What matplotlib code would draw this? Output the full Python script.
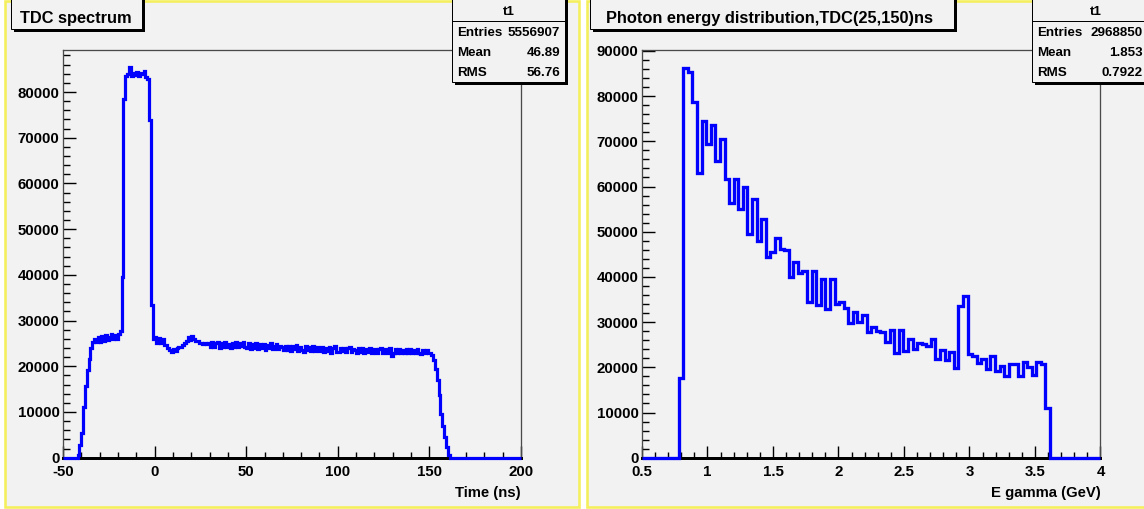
import numpy as np
import matplotlib
matplotlib.use("Agg")
import matplotlib.pyplot as plt
from matplotlib.patches import Rectangle
from matplotlib.lines import Line2D
from matplotlib.ticker import MultipleLocator, FuncFormatter
from matplotlib import font_manager

# ---------------- TDC spectrum: counts per 1 ns bin, -50 ns .. 200 ns ----------------
tdc_range_ns = (-50, 200)
tdc_lead_zeros = [0] * 8                      # -50 .. -43
tdc_rise = [600, 2800, 5400, 11000, 15600, 19200, 21600, 23900, 25400, 25900]   # -42 .. -33
tdc_shoulder = [25400, 26400, 25300, 26600, 25600, 26800, 25700, 26500, 27000, 25900,
                26900, 26000, 27000, 27800]   # -32 .. -19
tdc_prompt_peak = [39600, 78500, 83500, 83900, 85400, 83600, 84200, 83700, 84300, 83500,
                   84100, 83900, 84700, 83200, 82800, 73800, 33400, 25900]   # -18 .. -1
tdc_after_peak = [26300, 25100, 26200, 25000, 25900, 24600, 24700, 23900, 23600, 23100,
                  23700, 23300, 24100, 24200, 24300, 24600, 25200, 25500, 26400, 25800,
                  26600, 25900, 25500, 25500, 25100, 25200, 24900, 25100, 24800, 25000]  # 0 .. 29
tdc_plateau = [24300, 25300, 24200, 25100, 25400, 24100, 25000, 24300, 25300, 24200,
               24900, 24100, 25200, 24300, 25400, 24200, 25000, 24400, 25300, 24300,
               23900, 25000, 23800, 24900, 24100, 25000, 23700, 24800, 24000, 24900,
               23600, 24700, 23900, 25000, 23800, 24500, 24800, 23700, 24500, 24200,
               23500, 24500, 23600, 24500, 23400, 24400, 23700, 24700, 23400, 24300,
               23600, 23200, 24500, 23500, 24300, 23400, 24400, 23300, 24200, 23500,
               23300, 24300, 23100, 24100, 23300, 24200, 23000, 23900, 24400, 23200,
               23100, 24100, 23300, 24000, 23100, 23900, 24200, 23100, 23800, 23500,
               23000, 23900, 23100, 24000, 22900, 23800, 23100, 23900, 22900, 23700,
               23800, 22800, 23700, 23900, 22900, 23600, 23800, 22900, 23900, 22300,
               22900, 23700, 22800, 23800, 23000, 23600, 22800, 23800, 22900, 23700,
               22800, 23600, 22900, 23700, 23000, 22700, 23600, 22900, 23500, 22800]  # 30 .. 149
tdc_fall = [22900, 22500, 21300, 19500, 17000, 13800, 9500, 7000, 4600, 2400, 600]  # 150 .. 160
tdc_trail_zeros = [0] * 39                    # 161 .. 199

# ---------------- Photon energy: 100 bins over 0.5 .. 4 GeV ----------------
eg_range_gev = (0.5, 4.0)
eg_nbins = 100
eg_lead_zeros = [0] * 8
eg_counts = [17600, 86200, 85300, 78600, 63000, 74600, 69400, 73700, 65700, 70600,
             61600, 56400, 61600, 55000, 60000, 49600, 57200, 48000, 52800, 44300,
             45500, 48500, 46100, 45900, 39900, 43400, 40800, 41200, 34400, 41300,
             33800, 39500, 33000, 39600, 34000, 34400, 33200, 29900, 32300, 30000,
             31500, 27800, 28900, 28100, 27800, 25700, 28200, 23200, 28200, 23700,
             26200, 24100, 25300, 25100, 24700, 26200, 21800, 23800, 21600, 23400,
             19900, 33600, 35800, 23000, 22400, 21000, 21900, 19700, 22500, 19200,
             20200, 18000, 20800, 20800, 18000, 21200, 20100, 18200, 21200, 20800, 10900]
eg_trail_zeros = [0] * 11

# statistics box contents
tdc_stats = ("t1", "5556907", "46.89", "56.76")
eg_stats = ("t1", "2968850", "1.853", "0.7922")

tdc_title = "TDC spectrum"
eg_title = "Photon energy distribution,TDC(25,150)ns"
tdc_xlabel = "Time (ns)"
eg_xlabel = "E gamma (GeV)"

# ---------------- fonts ----------------
installed = {f.name for f in font_manager.fontManager.ttflist}
if "Liberation Sans Narrow" in installed:
    FAMILY, FS, FS_TICK = "Liberation Sans Narrow", 1.0, 1.0
else:
    FAMILY, FS, FS_TICK = "Liberation Sans", 0.84, 0.9
plt.rcParams["font.family"] = [FAMILY, "DejaVu Sans"]
plt.rcParams["font.weight"] = "bold"

W, H = 1144, 509
PX = 0.72  # points per pixel at 100 dpi
PAD_BG = "#f2f2f2"
PAD_EDGE = "#f4ef5c"
BLUE = "#0000ff"

fig = plt.figure(figsize=(W / 100, H / 100), dpi=100)
fig.patch.set_facecolor("white")


def fxy(x, y):
    return x / W, 1 - y / H


def fig_rect(x0, y0, x1, y1, **kw):
    r = Rectangle((x0 / W, 1 - y1 / H), (x1 - x0) / W, (y1 - y0) / H,
                  transform=fig.transFigure, **kw)
    fig.add_artist(r)
    return r


def fig_text(x, y, s, size, **kw):
    fx, fy = fxy(x, y)
    fig.text(fx, fy, s, fontsize=size * FS, fontweight="bold", color="black",
             va="baseline", zorder=8, **kw)


# canvas pads
fig_rect(4.5, 1, 578.5, 507, facecolor=PAD_BG, edgecolor=PAD_EDGE, linewidth=2.6 * PX, zorder=-5)
fig_rect(586.5, 1, 1152, 507, facecolor=PAD_BG, edgecolor=PAD_EDGE, linewidth=2.6 * PX, zorder=-5)


def make_axes(x0, x1):
    ax = fig.add_axes([x0 / W, 1 - 457.7 / H, (x1 - x0) / W, (457.7 - 50) / H])
    ax.set_facecolor(PAD_BG)
    for side in ("left", "top", "right"):
        ax.spines[side].set_color("#4a4a4a")
        ax.spines[side].set_linewidth(1.3 * PX)
    ax.spines["bottom"].set_color("black")
    ax.spines["bottom"].set_linewidth(3.0 * PX)
    ax.tick_params(which="both", direction="in", top=False, right=False,
                   color="black", width=1.4 * PX)
    ax.tick_params(which="major", length=12.5 * PX)
    ax.tick_params(which="minor", length=6.5 * PX)
    ax.tick_params(axis="x", which="major", pad=7.5 * PX, labelsize=12 * FS_TICK)
    ax.tick_params(axis="y", which="major", pad=3.5 * PX, labelsize=12 * FS_TICK)
    ax.yaxis.set_major_locator(MultipleLocator(10000))
    ax.yaxis.set_minor_locator(MultipleLocator(2000))
    ax.yaxis.set_major_formatter(FuncFormatter(lambda v, p: "%d" % round(v)))
    return ax


# ---------------- left: TDC spectrum ----------------
axL = make_axes(63, 521)
tdc_values = (tdc_lead_zeros + tdc_rise + tdc_shoulder + tdc_prompt_peak + tdc_after_peak
              + tdc_plateau + tdc_fall + tdc_trail_zeros)
tdc_edges = np.linspace(tdc_range_ns[0], tdc_range_ns[1], len(tdc_values) + 1)
axL.stairs(tdc_values, tdc_edges, color=BLUE, linewidth=3.2 * PX, zorder=3, clip_on=False)
axL.set_xlim(*tdc_range_ns)
axL.set_ylim(0, 89200)
axL.xaxis.set_major_locator(MultipleLocator(50))
axL.xaxis.set_minor_locator(MultipleLocator(10))
axL.xaxis.set_major_formatter(FuncFormatter(lambda v, p: "%d" % round(v)))

# ---------------- right: photon energy ----------------
axR = make_axes(642, 1100.5)
eg_values = eg_lead_zeros + eg_counts + eg_trail_zeros
eg_edges = np.linspace(eg_range_gev[0], eg_range_gev[1], eg_nbins + 1)
axR.stairs(eg_values, eg_edges, color=BLUE, linewidth=3.3 * PX, zorder=3, clip_on=False)
axR.set_xlim(*eg_range_gev)
axR.set_ylim(0, 90200)
axR.xaxis.set_major_locator(MultipleLocator(0.5))
axR.xaxis.set_minor_locator(MultipleLocator(0.1))
axR.xaxis.set_major_formatter(FuncFormatter(lambda v, p: "%g" % round(v, 2)))

for ax in (axL, axR):
    for lab in ax.get_xticklabels() + ax.get_yticklabels():
        lab.set_fontweight("bold")

# axis titles
fig_text(521, 497, tdc_xlabel, 12.8, ha="right")
fig_text(1100.5, 497, eg_xlabel, 12.8, ha="right")


# ---------------- title boxes ----------------
def title_box(x0, x1, y1, text, tx):
    fig_rect(x0 + 2.5, -6, x1 + 2.5, y1 + 2.5, facecolor="black", edgecolor="none", zorder=6)
    fig_rect(x0, -8, x1, y1, facecolor=PAD_BG, edgecolor="black", linewidth=1.0 * PX, zorder=7)
    fig_text(tx, 22.7, text, 14)


title_box(11, 142, 29, tdc_title, 20.5)
title_box(590, 954, 29, eg_title, 606)


# ---------------- statistics boxes ----------------
def stats_box(x0, x1, y1, stats, lx, rx):
    name, entries, mean, rms = stats
    fig_rect(x0 + 2.5, -6, x1 + 2.5, y1 + 2.5, facecolor="black", edgecolor="none", zorder=6)
    fig_rect(x0, -8, x1, y1, facecolor=PAD_BG, edgecolor="black", linewidth=1.0 * PX, zorder=7)
    fig.add_artist(Line2D([x0 / W, x1 / W], [1 - 20.7 / H] * 2, transform=fig.transFigure,
                          color="black", linewidth=1.0 * PX, zorder=7.5))
    fig_text((x0 + x1) / 2, 15, name, 11.5, ha="center")
    for y, key, val in ((36, "Entries", entries), (56, "Mean", mean), (76.5, "RMS", rms)):
        fig_text(lx, y, key, 11.5, ha="left")
        fig_text(rx, y, val, 11.5, ha="right")


stats_box(452, 565, 82, tdc_stats, 457.5, 560)
stats_box(1032, 1160, 82, eg_stats, 1037.5, 1142.5)

fig.savefig("out.png", dpi=100, facecolor=fig.get_facecolor())
